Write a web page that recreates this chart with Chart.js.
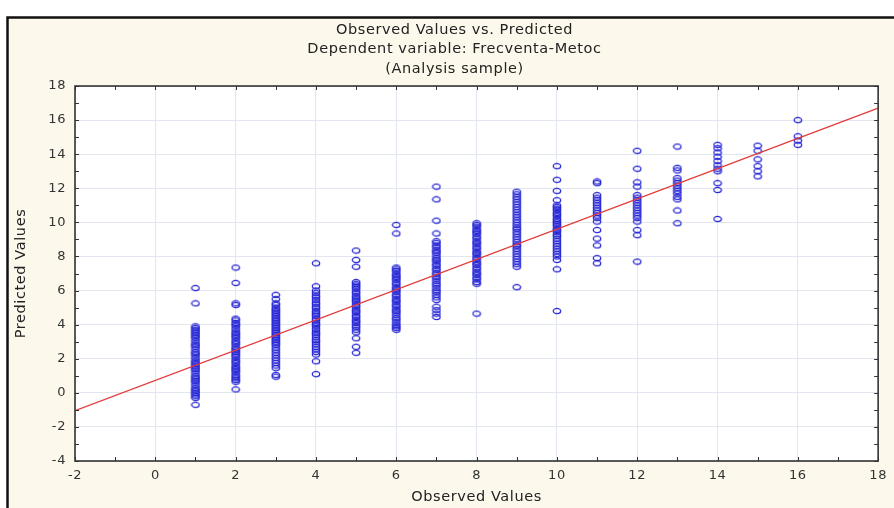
<!DOCTYPE html>
<html>
<head>
<meta charset="utf-8">
<script src="https://cdn.jsdelivr.net/npm/chart.js@4.4.1/dist/chart.umd.min.js"></script>
<style>
  html, body { margin: 0; padding: 0; background: #fff; }
  #wrap { width: 894px; height: 508px; position: relative; }
</style>
</head>
<body>
<div id="wrap"><canvas id="chart-obs"></canvas></div>
<script>
// observed values (x) of each column of points
const observed = [1, 2, 3, 4, 5, 6, 7, 8, 9, 10, 11, 12, 13, 14, 15, 16];

const pred1 = [6.15, 5.25, 3.9, 3.8, 3.7, 3.6, 3.5, 3.4, 3.3, 3.2, 3.05, 2.9, 2.8, 2.7, 2.55, 2.4, 2.3, 2.2, 2.05, 1.9, 1.8, 1.7, 1.6, 1.5, 1.4, 1.3, 1.15, 1.0, 0.9, 0.8, 0.7, 0.6, 0.45, 0.3, 0.2, 0.1, 0.0, -0.1, -0.2, -0.3, -0.7];
const pred2 = [7.35, 6.45, 5.25, 5.15, 4.35, 4.25, 4.1, 4.0, 3.9, 3.75, 3.6, 3.5, 3.4, 3.3, 3.2, 3.05, 2.95, 2.85, 2.7, 2.6, 2.5, 2.4, 2.3, 2.2, 2.1, 1.95, 1.85, 1.75, 1.6, 1.5, 1.4, 1.3, 1.2, 1.05, 0.95, 0.85, 0.75, 0.65, 0.2];
const pred3 = [5.75, 5.5, 5.25, 5.15, 5.0, 4.9, 4.8, 4.7, 4.6, 4.5, 4.4, 4.3, 4.2, 4.1, 4.0, 3.9, 3.8, 3.7, 3.6, 3.5, 3.4, 3.3, 3.2, 3.1, 3.0, 2.9, 2.8, 2.65, 2.5, 2.35, 2.2, 2.05, 1.9, 1.75, 1.6, 1.45, 1.05, 0.95];
const pred4 = [7.6, 6.25, 6.0, 5.85, 5.7, 5.6, 5.45, 5.3, 5.2, 5.05, 4.95, 4.8, 4.7, 4.6, 4.5, 4.35, 4.25, 4.1, 4.0, 3.9, 3.75, 3.6, 3.5, 3.4, 3.25, 3.1, 3.0, 2.85, 2.7, 2.55, 2.4, 2.25, 1.85, 1.1];
const pred5 = [8.35, 7.8, 7.4, 6.5, 6.4, 6.3, 6.2, 6.1, 5.95, 5.85, 5.7, 5.6, 5.5, 5.4, 5.3, 5.15, 5.05, 4.9, 4.8, 4.7, 4.55, 4.45, 4.3, 4.2, 4.1, 3.95, 3.85, 3.7, 3.55, 3.2, 2.7, 2.35];
const pred6 = [9.85, 9.35, 7.35, 7.25, 7.15, 7.0, 6.9, 6.8, 6.7, 6.6, 6.45, 6.35, 6.2, 6.1, 6.0, 5.9, 5.75, 5.65, 5.5, 5.4, 5.3, 5.15, 5.05, 4.9, 4.8, 4.7, 4.55, 4.4, 4.3, 4.15, 4.0, 3.9, 3.8, 3.7];
const pred7 = [12.1, 11.35, 10.1, 9.35, 8.9, 8.8, 8.65, 8.55, 8.4, 8.3, 8.2, 8.05, 7.9, 7.8, 7.7, 7.55, 7.45, 7.3, 7.2, 7.05, 6.95, 6.8, 6.7, 6.55, 6.4, 6.3, 6.15, 6.0, 5.9, 5.75, 5.6, 5.45, 5.05, 4.85, 4.65, 4.45];
const pred8 = [9.95, 9.85, 9.75, 9.6, 9.5, 9.4, 9.3, 9.15, 9.05, 8.9, 8.8, 8.7, 8.55, 8.45, 8.3, 8.2, 8.1, 7.95, 7.85, 7.7, 7.6, 7.5, 7.35, 7.25, 7.1, 7.0, 6.9, 6.75, 6.65, 6.5, 6.4, 4.65];
const pred9 = [11.8, 11.65, 11.5, 11.35, 11.2, 11.05, 10.9, 10.75, 10.6, 10.45, 10.3, 10.15, 10.0, 9.85, 9.7, 9.6, 9.45, 9.3, 9.15, 9.0, 8.85, 8.7, 8.6, 8.45, 8.3, 8.15, 8.0, 7.85, 7.7, 7.55, 7.4, 6.2];
const pred10 = [13.3, 12.5, 11.85, 11.3, 11.0, 10.9, 10.8, 10.7, 10.55, 10.45, 10.35, 10.2, 10.1, 10.0, 9.9, 9.8, 9.65, 9.55, 9.45, 9.3, 9.2, 9.05, 8.9, 8.75, 8.6, 8.45, 8.3, 8.15, 8.0, 7.8, 7.25, 4.8];
const pred11 = [12.4, 12.3, 11.6, 11.45, 11.3, 11.15, 11.0, 10.85, 10.7, 10.55, 10.4, 10.25, 10.05, 9.55, 9.05, 8.65, 7.9, 7.6];
const pred12 = [14.2, 13.15, 12.35, 12.1, 11.6, 11.45, 11.3, 11.15, 11.0, 10.85, 10.7, 10.55, 10.4, 10.25, 10.05, 9.55, 9.25, 7.7];
const pred13 = [14.45, 13.2, 13.05, 12.6, 12.45, 12.3, 12.15, 12.0, 11.85, 11.7, 11.5, 11.35, 10.7, 9.95];
const pred14 = [14.55, 14.35, 14.1, 13.85, 13.6, 13.35, 13.15, 13.0, 12.3, 11.9, 10.2];
const pred15 = [14.5, 14.2, 13.7, 13.3, 13.0, 12.7];
const pred16 = [16.0, 15.05, 14.8, 14.55];
const predicted = [pred1, pred2, pred3, pred4, pred5, pred6, pred7, pred8,
                   pred9, pred10, pred11, pred12, pred13, pred14, pred15, pred16];

// fitted line end points
const lineX = [-2, 18];
const lineY = [-1.05, 16.7];

const xTicks = [-2, 0, 2, 4, 6, 8, 10, 12, 14, 16, 18];
const yTicks = [-4, -2, 0, 2, 4, 6, 8, 10, 12, 14, 16, 18];

const points = [];
observed.forEach((x, i) => predicted[i].forEach(y => points.push({x: x, y: y})));

// little oval marker, the circles in the original are a bit flattened
const ring = document.createElement('canvas');
ring.width = 10;
ring.height = 8;
const rc = ring.getContext('2d');
rc.strokeStyle = '#2626d6';
rc.lineWidth = 1.3;
rc.beginPath();
rc.ellipse(5, 4, 3.7, 2.6, 0, 0, Math.PI * 2);
rc.stroke();

const FONT = 'DejaVu Sans, Arial, sans-serif';
const CREAM = '#fcf8ec';

const framePlugin = {
  id: 'frame',
  beforeUpdate(chart) { chart.ctx.letterSpacing = '0.6px'; },
  beforeDraw(chart) {
    const {ctx, width, height, chartArea: a} = chart;
    ctx.letterSpacing = '0.6px';
    ctx.save();
    ctx.fillStyle = '#fff';
    ctx.fillRect(0, 0, width, height);
    ctx.fillStyle = CREAM;
    ctx.fillRect(7, 17, width - 7, height - 17);
    ctx.strokeStyle = '#111';
    ctx.lineWidth = 2.5;
    ctx.beginPath();
    ctx.moveTo(7.5, height);
    ctx.lineTo(7.5, 17.5);
    ctx.lineTo(width, 17.5);
    ctx.stroke();
    ctx.fillStyle = '#fff';
    ctx.fillRect(a.left, a.top, a.right - a.left, a.bottom - a.top);
    ctx.restore();
  },
  afterDraw(chart) {
    const {ctx, chartArea: a, scales: {x, y}} = chart;
    ctx.save();
    ctx.strokeStyle = '#333';
    ctx.lineWidth = 1;
    ctx.beginPath();
    for (let v = -2; v <= 18; v++) {
      const px = Math.round(x.getPixelForValue(v)) + 0.5;
      ctx.moveTo(px, a.bottom); ctx.lineTo(px, a.bottom - 4);
      ctx.moveTo(px, a.top); ctx.lineTo(px, a.top + 4);
    }
    for (let v = -4; v <= 18; v++) {
      const py = Math.round(y.getPixelForValue(v)) + 0.5;
      ctx.moveTo(a.left, py); ctx.lineTo(a.left + 4, py);
      ctx.moveTo(a.right, py); ctx.lineTo(a.right - 4, py);
    }
    ctx.stroke();
    ctx.lineWidth = 1.6;
    ctx.strokeRect(a.left, a.top, a.right - a.left, a.bottom - a.top);
    ctx.restore();
  }
};

const ctx = document.getElementById('chart-obs').getContext('2d');
const chart = new Chart(ctx, {
  type: 'scatter',
  data: {
    datasets: [
      {
        label: 'Predicted',
        data: points,
        pointStyle: ring,
        pointRadius: 4,
        order: 2
      },
      {
        label: 'Fit',
        type: 'line',
        data: lineX.map((x, i) => ({x: x, y: lineY[i]})),
        borderColor: '#e23a3a',
        borderWidth: 1.2,
        pointRadius: 0,
        fill: false,
        order: 1
      }
    ]
  },
  options: {
    responsive: true,
    maintainAspectRatio: false,
    animation: false,
    layout: {
      // left padding is wide so the title centres where the original does
      padding: {left: 28, right: 13, top: 17, bottom: 0}
    },
    scales: {
      x: {
        type: 'linear',
        min: -2,
        max: 18,
        afterBuildTicks: (s) => { s.ticks = xTicks.map(v => ({value: v})); },
        afterFit: (s) => { s.height = 47; },
        ticks: {
          color: '#333',
          padding: 7,
          font: {family: FONT, size: 13}
        },
        grid: {color: '#e2e6ee', drawTicks: false},
        border: {display: false},
        title: {
          display: true,
          text: 'Observed Values',
          color: '#222',
          padding: {top: 0, bottom: 2.3},
          font: {family: FONT, size: 14.5}
        }
      },
      y: {
        type: 'linear',
        min: -4,
        max: 18,
        afterBuildTicks: (s) => { s.ticks = yTicks.map(v => ({value: v})); },
        afterFit: (s) => { s.width = 47; },
        ticks: {
          color: '#333',
          padding: 9,
          font: {family: FONT, size: 13}
        },
        grid: {color: '#e2e6ee', drawTicks: false},
        border: {display: false},
        title: {
          display: true,
          text: 'Predicted Values',
          color: '#222',
          padding: {top: -15.7, bottom: 0},
          font: {family: FONT, size: 14.5}
        }
      }
    },
    plugins: {
      legend: {
        display: false
      },
      tooltip: {enabled: false},
      title: {
        display: true,
        text: ['Observed Values vs. Predicted', 'Dependent variable: Frecventa-Metoc', '(Analysis sample)'],
        color: '#222',
        padding: {top: 3.2, bottom: 7.1},
        font: {family: FONT, size: 14.5, weight: 'normal', lineHeight: 1.35}
      }
    }
  },
  plugins: [framePlugin]
});
</script>
</body>
</html>
